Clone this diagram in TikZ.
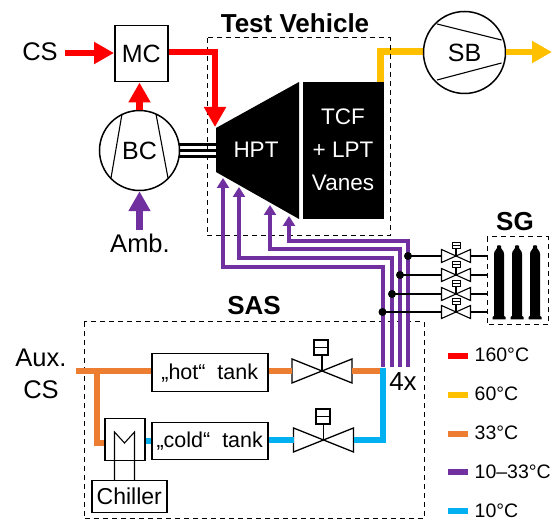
\documentclass[tikz,border=0pt]{standalone}
\usepackage{fontspec}
\setmainfont{Liberation Sans}
\usetikzlibrary{arrows.meta}
\definecolor{cred}{HTML}{FF0000}
\definecolor{cyel}{HTML}{FFC000}
\definecolor{cora}{HTML}{ED7D31}
\definecolor{cpur}{HTML}{7030A0}
\definecolor{cblu}{HTML}{00B0F0}
\tikzset{
 x=1pt,y=-1pt,
 box/.style={draw=black,line width=1.5pt,fill=white,inner sep=0pt,anchor=north west},
 dbox/.style={draw=black,line width=1pt,dash pattern=on 5pt off 4pt},
 lab/.style={font=\fontsize{25.5}{28}\selectfont,inner sep=0pt},
 title/.style={font=\fontsize{26}{28}\selectfont\bfseries,inner sep=0pt},
 wlab/.style={font=\fontsize{22.5}{24}\selectfont,text=white,inner sep=0pt},
 bigarrow/.style={line width=6.5pt,-{Triangle[length=20pt,width=21pt]}},
 puarrow/.style={draw=cpur,line width=3.5pt,-{Triangle[length=10pt,width=12pt]}},
 pipe/.style={line width=6.5pt},
 thin line/.style={line width=1.1pt},
}
\newcommand{\smallvalve}[3]{%
 \coordinate (#1) at (#2,#3);
 \draw[thin line,fill=white] (#2-14.5,#3-6.5) -- (#2+14.5,#3+6.5) -- (#2+14.5,#3-6.5) -- (#2-14.5,#3+6.5) -- cycle;
 \draw[thin line] (#2,#3) -- (#2,#3-8);
 \draw[line width=0.9pt,fill=white] (#2-4,#3-14) rectangle (#2+4,#3-8);
 \draw[line width=0.9pt] (#2-4,#3-11) -- (#2+4,#3-11);
}
\newcommand{\bigvalve}[5]{%
 \coordinate (#1) at (#2,#3);
 \draw[line width=1.3pt,fill=white] (#2-30,#3-12) -- (#2+30,#3+12) -- (#2+30,#3-12) -- (#2-30,#3+12) -- cycle;
 \draw[line width=1.3pt] (#2,#3) -- (#2,#3-23);
 \draw[line width=1.3pt,fill=white] (#4-7,#5) rectangle (#4+7,#5+15);
 \draw[line width=1.1pt] (#4-7,#5+7.5) -- (#4+7,#5+7.5);
 \draw[line width=1.1pt] (#2,#3-23) -- (#2,#5+7.5);
}
\newcommand{\bottle}[1]{%
 \fill[black] (#1-5,254) .. controls (#1-5,250) and (#1-2,250) .. (#1-2,248) -- (#1-2,246) .. controls (#1-2,245) and (#1+2,245) .. (#1+2,246) -- (#1+2,248) .. controls (#1+2,250) and (#1+5,250) .. (#1+5,254) -- (#1+5,316) -- (#1+6.5,317) -- (#1+6.5,319.5) -- (#1-6.5,319.5) -- (#1-6.5,317) -- (#1-5,316) -- cycle;
}
\begin{document}
\begin{tikzpicture}
\useasboundingbox (0,0) rectangle (558,521);
\draw[cyel,line width=7pt,line cap=butt,line join=miter] (380.5,82) -- (380.5,52) -- (424,52);
\draw[dbox] (207,38) rectangle (390,236);
\draw[dbox] (84,322) rectangle (424,519);
\draw[dbox] (487,237) rectangle (548,325);
\node[title] (tv) at (295,23) {Test Vehicle};
\node[title] (sas) at (254,306) {SAS};
\node[title] (sg) at (515,222) {SG};
\fill[black] (216,128) -- (299,82) -- (299,219) -- (216,172) -- cycle;
\node[wlab] (hpt) at (256,150) {HPT};
\fill[black] (303,82) rectangle (384,219);
\node[wlab] (tcf) at (343,117) {TCF};
\node[wlab] (lpt) at (343,150) {+ LPT};
\node[wlab] (van) at (343,183) {Vanes};
\draw[line width=2.2pt] (179,144.5) -- (216,144.5);
\draw[line width=2.2pt] (179,150.5) -- (216,150.5);
\draw[line width=2.2pt] (179,156.5) -- (216,156.5);
\node[lab] (cs) at (40,52) {CS};
\node[box,minimum width=53pt,minimum height=56pt,font=\fontsize{25}{28}\selectfont] (mc) at (114,25) {MC};
\node[draw=black,circle,line width=1.5pt,fill=white,minimum size=80pt,inner sep=0pt,font=\fontsize{25}{28}\selectfont] (bc) at (139.5,150.5) {BC};
\draw[line width=1.1pt] (122,114) -- (111,178);
\draw[line width=1.1pt] (156,114) -- (168,178);
\node[lab] (amb) at (140,243) {Amb.};
\coordinate (csr) at (65,53);
\draw[bigarrow,cred] (csr) -- (mc.west |- csr);
\draw[bigarrow,cred] (bc.north) -- (mc.south -| bc.north);
\coordinate (ambt) at (139.5,230);
\draw[bigarrow,cpur] (ambt) -- (bc.south);
\coordinate (rt) at (215,127);
\draw[bigarrow,cred,line join=miter] (mc.east |- 0,52) -- (215,52) -- (rt);
\node[draw=black,circle,line width=1.5pt,fill=white,minimum size=82pt,inner sep=0pt,font=\fontsize{25}{28}\selectfont] (sb) at (464.5,52.5) {SB};
\draw[line width=1.1pt] (437,24) -- (501.5,40);
\draw[line width=1.1pt] (437,80) -- (501.5,63);
\coordinate (ysb) at (552,52);
\draw[bigarrow,cyel] (sb.east |- ysb) -- (ysb);
\coordinate (p1) at (223,178);\coordinate (p2) at (239,187);\coordinate (p3) at (270,205);\coordinate (p4) at (289,216);
\draw[puarrow] (383,367) -- (383,267) -- (223,267) -- (p1);
\draw[puarrow] (392,367) -- (392,258) -- (239,258) -- (p2);
\draw[puarrow] (400,367) -- (400,249) -- (270,249) -- (p3);
\draw[puarrow] (408,367) -- (408,241) -- (289,241) -- (p4);
\foreach \n/\xx/\yy in {a/408/256,b/400/275,c/392/294,d/382.5/312}{
  \fill[black] (\xx,\yy) circle (4);
  \draw[thin line] (\xx,\yy) -- (487,\yy);
}
\smallvalve{va}{456}{312}
\smallvalve{vb}{456}{294}
\smallvalve{vc}{456}{275}
\smallvalve{vd}{456}{256}
\bottle{499}\bottle{517}\bottle{535}
\node[lab,align=center,font=\fontsize{25.5}{32}\selectfont] (aux) at (41,374) {Aux.\\CS};
\node[box,minimum width=116pt,minimum height=38pt,font=\fontsize{21.5}{24}\selectfont] (hot) at (151,353) {„hot“\ \ tank};
\node[box,minimum width=116pt,minimum height=37pt,font=\fontsize{21.5}{24}\selectfont] (cold) at (151,422) {„cold“\ \ tank};
\node[box,minimum width=40pt,minimum height=42pt] (hx) at (104,418) {};
\node[box,minimum width=75pt,minimum height=32pt,font=\fontsize{23}{24}\selectfont] (chil) at (91,480) {Chiller};
\draw[thin line] (114.5,480) -- (114.5,432) -- (124.5,443) -- (134.5,432) -- (134.5,480);
\draw[cora,pipe] (76,371) -- (hot.west |- 0,371);
\draw[cora,pipe,line join=miter] (97,371) -- (97,443) -- (hx.west |- 0,443);
\draw[cblu,pipe] (hx.east |- 0,441) -- (cold.west |- 0,441);
\bigvalve{v1}{322}{371}{321}{340}
\bigvalve{v2}{323.5}{440}{323}{409}
\draw[cora,pipe] (hot.east |- 0,371) -- (292,371);
\draw[cora,pipe] (352,371) -- (383,371);
\draw[cblu,pipe] (cold.east |- 0,440) -- (293.5,440);
\draw[cblu,pipe,line join=miter] (353.5,440) -- (383,440) -- (383,368);
\node[lab,font=\fontsize{26}{28}\selectfont] (fx) at (403,382) {4x};
\foreach \n/\c/\yy/\ty/\t in {l1/cred/356/355/160°C,l2/cyel/395/394/60°C,l3/cora/434/433/33°C,l4/cpur/472/472/10–33°C,l5/cblu/511/510.5/10°C}{
  \coordinate (s\n) at (448,\yy);
  \draw[\c,line width=6.5pt] (s\n) -- ++(20,0);
  \node[anchor=west,inner sep=0pt,font=\fontsize{19.5}{22}\selectfont] (\n) at (474.5,\ty) {\t};
}
\end{tikzpicture}
\end{document}
